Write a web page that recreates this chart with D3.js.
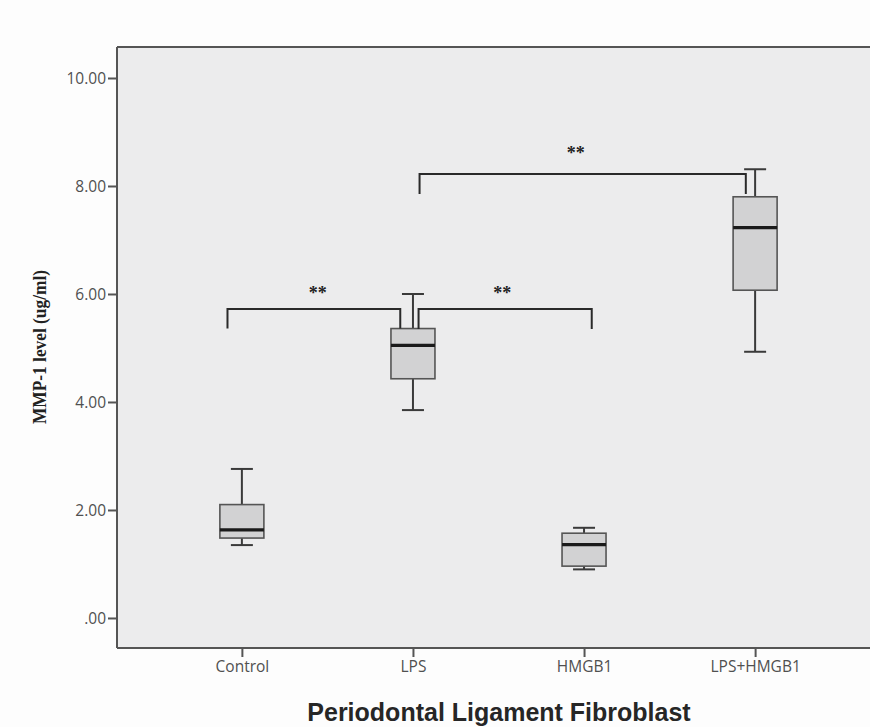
<!DOCTYPE html>
<html>
<head>
<meta charset="utf-8">
<script src="https://cdn.jsdelivr.net/npm/d3@7"></script>
<style>
  html, body { margin: 0; padding: 0; background: #fdfdfd; }
  svg { display: block; }
</style>
</head>
<body>
<svg id="chart" width="870" height="727"></svg>
<script>
// ---- data ----
const categories = ["Control", "LPS", "HMGB1", "LPS+HMGB1"];
const whiskerLow  = [1.35, 3.85, 0.90, 4.93];
const q1          = [1.48, 4.43, 0.96, 6.07];
const medians     = [1.63, 5.05, 1.36, 7.23];
const q3          = [2.10, 5.36, 1.57, 7.80];
const whiskerHigh = [2.76, 6.00, 1.67, 8.31];
const yTickValues = [0, 2, 4, 6, 8, 10];
// significance brackets (values in data units)
const bracketFrom  = ["Control", "LPS", "LPS"];
const bracketTo    = ["LPS", "HMGB1", "LPS+HMGB1"];
const bracketLevel = [5.72, 5.72, 8.22];
const bracketLeg   = [5.36, 5.35, 7.85];
const bracketStarY = [6.04, 6.05, 8.635];
const bracketLabel = ["**", "**", "**"];
const yTitle = "MMP-1 level (ug/ml)";
const xTitle = "Periodontal Ligament Fibroblast";

// ---- layout ----
const svg = d3.select("#chart");
const plot = { left: 117, right: 880, top: 47, bottom: 648 };

const x = d3.scalePoint().domain(categories).range([plot.left, plot.right]).padding(0.73);
const y = d3.scaleLinear().domain([-0.556, 10.574]).range([plot.bottom, plot.top]);

// plot background
svg.append("rect")
  .attr("x", plot.left).attr("y", plot.top)
  .attr("width", plot.right - plot.left).attr("height", plot.bottom - plot.top)
  .attr("fill", "#ececed");

// top border
svg.append("line")
  .attr("x1", plot.left).attr("x2", plot.right)
  .attr("y1", plot.top).attr("y2", plot.top)
  .attr("stroke", "#555").attr("stroke-width", 2);

// y axis
const fmt = v => d3.format(".2f")(v).replace(/^0\./, ".");
const yAxis = svg.append("g")
  .attr("transform", `translate(${plot.left},0)`)
  .call(d3.axisLeft(y).tickValues(yTickValues).tickFormat(fmt).tickSize(9).tickSizeOuter(0));
yAxis.select(".domain").attr("stroke", "#555").attr("stroke-width", 2)
  .attr("d", `M0,${plot.top}V${plot.bottom}`);
yAxis.selectAll(".tick line").attr("stroke", "#555").attr("stroke-width", 2);
yAxis.selectAll(".tick text")
  .attr("x", -11).attr("dy", "0.36em")
  .attr("fill", "#505050")
  .style("font-family", "'Open Sans', sans-serif").style("font-size", "15.5px");

// x axis
const xAxis = svg.append("g")
  .attr("transform", `translate(0,${plot.bottom})`)
  .call(d3.axisBottom(x).tickSize(9).tickSizeOuter(0));
xAxis.select(".domain").attr("stroke", "#555").attr("stroke-width", 2)
  .attr("d", `M${plot.left},0H${plot.right}`);
xAxis.selectAll(".tick line").attr("stroke", "#555").attr("stroke-width", 2);
xAxis.selectAll(".tick text")
  .attr("y", 13).attr("dy", "0.71em")
  .attr("fill", "#505050")
  .style("font-family", "'Open Sans', sans-serif").style("font-size", "15.5px");

// boxes
const boxW = 44, capW = 22;
const boxes = categories.map((c, i) => ({
  c, lo: whiskerLow[i], q1: q1[i], med: medians[i], q3: q3[i], hi: whiskerHigh[i]
}));
const g = svg.append("g");
boxes.forEach(b => {
  const cx = x(b.c);
  const gg = g.append("g");
  // whiskers
  gg.append("line").attr("x1", cx).attr("x2", cx).attr("y1", y(b.q3)).attr("y2", y(b.hi))
    .attr("stroke", "#3a3a3a").attr("stroke-width", 2);
  gg.append("line").attr("x1", cx).attr("x2", cx).attr("y1", y(b.q1)).attr("y2", y(b.lo))
    .attr("stroke", "#3a3a3a").attr("stroke-width", 2);
  gg.append("line").attr("x1", cx - capW / 2).attr("x2", cx + capW / 2).attr("y1", y(b.hi)).attr("y2", y(b.hi))
    .attr("stroke", "#3a3a3a").attr("stroke-width", 2);
  gg.append("line").attr("x1", cx - capW / 2).attr("x2", cx + capW / 2).attr("y1", y(b.lo)).attr("y2", y(b.lo))
    .attr("stroke", "#3a3a3a").attr("stroke-width", 2);
  // box
  gg.append("rect").attr("x", cx - boxW / 2).attr("y", y(b.q3))
    .attr("width", boxW).attr("height", y(b.q1) - y(b.q3))
    .attr("fill", "#d2d2d3").attr("stroke", "#555").attr("stroke-width", 1.6);
  // median
  gg.append("line").attr("x1", cx - boxW / 2).attr("x2", cx + boxW / 2).attr("y1", y(b.med)).attr("y2", y(b.med))
    .attr("stroke", "#1a1a1a").attr("stroke-width", 3.2);
});

// brackets (small pixel nudges so legs sit beside the whiskers)
const legNudge = [[-14.4, -12.7], [5.6, 7.7], [6.6, -9.3]];
const starNudge = [4, -3, -7];
bracketFrom.forEach((f, i) => {
  const x1 = x(f) + legNudge[i][0];
  const x2 = x(bracketTo[i]) + legNudge[i][1];
  const yl = y(bracketLevel[i]), yb = y(bracketLeg[i]);
  svg.append("path")
    .attr("d", `M${x1},${yb}V${yl}H${x2}V${yb}`)
    .attr("fill", "none").attr("stroke", "#2a2a2a").attr("stroke-width", 2);
  svg.append("text")
    .attr("x", (x1 + x2) / 2 + starNudge[i]).attr("y", y(bracketStarY[i]))
    .attr("text-anchor", "middle").attr("dy", "0.42em")
    .attr("fill", "#222")
    .style("font-family", "'Liberation Serif', serif").style("font-weight", "bold").style("font-size", "18px")
    .text(bracketLabel[i]);
});

// axis titles
svg.append("text")
  .attr("transform", `translate(46,347) rotate(-90)`)
  .attr("text-anchor", "middle")
  .attr("fill", "#222")
  .attr("textLength", 154).attr("lengthAdjust", "spacingAndGlyphs")
  .style("font-family", "'Liberation Serif', serif").style("font-weight", "bold").style("font-size", "18.5px")
  .text(yTitle);

svg.append("text")
  .attr("x", 499).attr("y", 721)
  .attr("text-anchor", "middle")
  .attr("fill", "#262626")
  .style("font-family", "'Liberation Sans', Arial, sans-serif").style("font-weight", "bold").style("font-size", "25px")
  .text(xTitle);
</script>
</body>
</html>
